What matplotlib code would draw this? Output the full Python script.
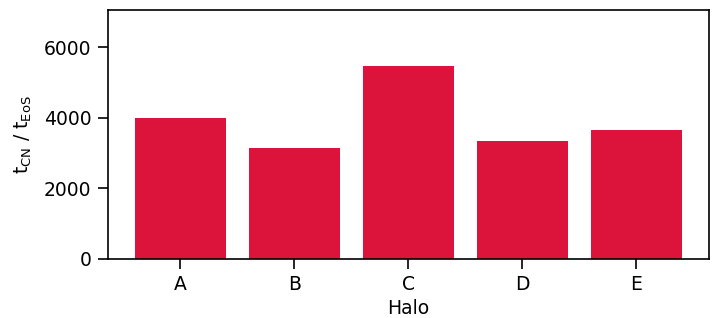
import matplotlib
matplotlib.use("Agg")
import matplotlib.pyplot as plt

halos = ["A", "B", "C", "D", "E"]
ratios = [4000, 3150, 5485, 3345, 3660]

plt.rcParams['font.size'] = 13.5
fig = plt.figure(figsize=(7.12, 3.18), dpi=100)
ax = fig.add_axes([0.151, 0.187, 0.845, 0.782])
ax.bar(halos, ratios, width=0.8, color='crimson')
ax.set_ylim(0, 7070)
ax.set_yticks([0, 2000, 4000, 6000])
ax.set_xlabel("Halo", labelpad=4)
ax.set_ylabel(r"$\mathrm{t_{CN}}$ / $\mathrm{t_{EoS}}$", labelpad=7)
ax.tick_params(length=7, width=1.2, pad=4.5)
for s in ax.spines.values():
    s.set_linewidth(1.2)
fig.savefig("out.png", dpi=100)
